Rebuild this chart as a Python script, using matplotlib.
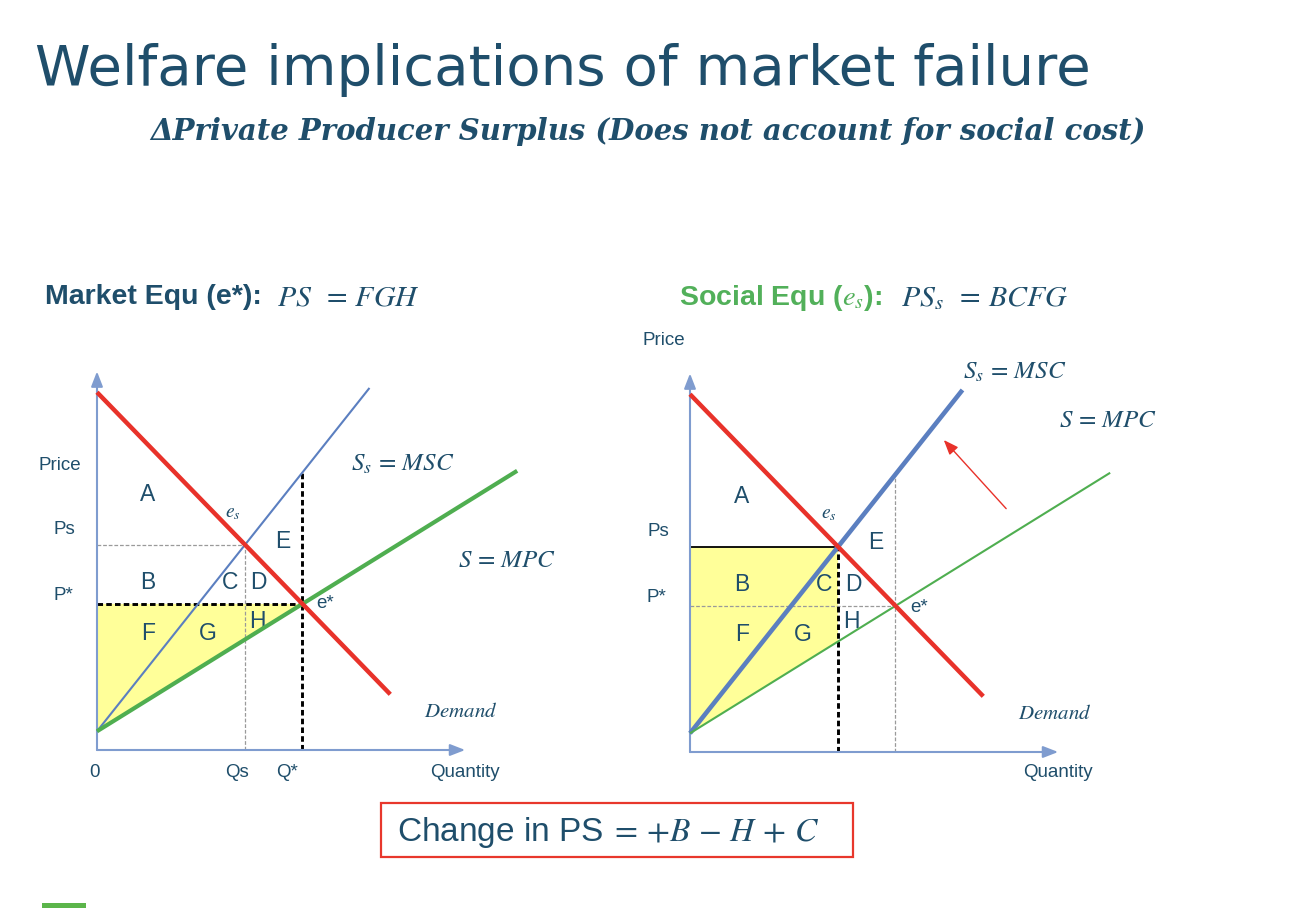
import numpy as np
import matplotlib.pyplot as plt
from matplotlib.patches import Rectangle

plt.rcParams['mathtext.fontset'] = 'stix'
plt.rcParams['font.family'] = 'Liberation Sans'

NAVY = '#1f4e6b'
GREEN = '#52b05a'
RED = '#e8322a'
BLUE = '#5b7fc0'
AXIS = '#7f9ccf'
YELLOW = '#ffff99'
GREY = '#9a9a9a'

W, H = 1290, 908
S = 20.8   # pixels per unit on both diagrams

# curves: price = intercept + slope * quantity (same curves on both diagrams)
demand = (17.2, -1.03)
msc = (0.9, 1.26)
mpc = (0.9, 0.62)
demand_end = 14.1
msc_end = 13.1
mpc_end = 20.2
q_axis_len = 17.7
p_axis_len = 18.2

# red arrow showing the supply shift (right diagram)
shift_from = (15.2, 11.7)
shift_to = (12.2, 15.0)

# area / point labels (text, q, p)
left_labels = [('A', 2.45, 12.3), ('E', 8.94, 10.0), ('B', 2.45, 8.03), ('C', 6.39, 8.03),
               ('D', 7.74, 8.03), ('F', 2.45, 5.58), ('G', 5.34, 5.58), ('H', 7.69, 6.2)]
right_labels = [('A', 2.5, 12.3), ('E', 8.94, 10.05), ('B', 2.5, 8.03), ('C', 6.44, 8.03),
                ('D', 7.84, 8.03), ('F', 2.5, 5.63), ('G', 5.43, 5.63), ('H', 7.74, 6.25)]


def price(curve, q):
    return curve[0] + curve[1] * q


q_star = (demand[0] - mpc[0]) / (mpc[1] - demand[1])
p_star = price(mpc, q_star)
q_s = (demand[0] - msc[0]) / (msc[1] - demand[1])
p_s = price(msc, q_s)

fig = plt.figure(figsize=(W / 100, H / 100), dpi=100)


def chart_axes(ox, oy):
    ax = fig.add_axes([(ox - 4 * S) / W, (H - (oy + 3 * S)) / H, 30 * S / W, 24 * S / H])
    ax.set_xlim(-4, 26)
    ax.set_ylim(-3, 21)
    ax.axis('off')
    return ax


def draw_axes_arrows(ax):
    for xy in [(0, p_axis_len), (q_axis_len, 0)]:
        ax.annotate('', xy=xy, xytext=(0, 0),
                    arrowprops=dict(arrowstyle='-|>,head_length=0.9,head_width=0.35',
                                    color=AXIS, lw=1.5, mutation_scale=10,
                                    shrinkA=0, shrinkB=0))


def draw_curves(ax, msc_lw, mpc_lw):
    q = np.array([0, demand_end])
    ax.plot(q, price(demand, q), color=RED, lw=3.2, solid_capstyle='butt', zorder=5)
    q = np.array([0, msc_end])
    ax.plot(q, price(msc, q), color=BLUE, lw=msc_lw, solid_capstyle='butt', zorder=4)
    q = np.array([0, mpc_end])
    ax.plot(q, price(mpc, q), color='#4fae50', lw=mpc_lw, solid_capstyle='butt', zorder=4)


def put_labels(ax, labels):
    for s, q, p in labels:
        ax.text(q, p, s, fontsize=16.5, color=NAVY, ha='center', va='center')


black_dash = dict(color='black', lw=2.1, ls=(0, (1.9, 1.1)), zorder=3)
grey_dash = dict(color=GREY, lw=0.9, ls=(0, (3, 1.5)), zorder=3)
math = dict(color=NAVY, ha='center', va='center')

# ---------------- left diagram: market equilibrium ----------------
axl = chart_axes(97, 750)
axl.fill([0, q_star, 0], [p_star, p_star, mpc[0]], color=YELLOW, lw=0, zorder=1)
axl.plot([0, q_s], [p_s, p_s], **grey_dash)
axl.plot([q_s, q_s], [0, p_s], **grey_dash)
axl.plot([0, q_star], [p_star, p_star], **black_dash)
axl.plot([q_star, q_star], [0, price(msc, q_star)], **black_dash)
draw_axes_arrows(axl)
draw_curves(axl, 1.5, 3.0)
put_labels(axl, left_labels)

txt = dict(color=NAVY, fontsize=13.5, ha='center', va='center')
axl.text(-1.78, 13.7, 'Price', **txt)
axl.text(-1.59, 10.58, 'Ps', **txt)
axl.text(-1.63, 7.45, 'P*', **txt)
axl.text(-0.1, -1.06, '0', **txt)
axl.text(6.73, -1.06, 'Qs', **txt)
axl.text(9.13, -1.06, 'Q*', **txt)
axl.text(17.7, -1.06, 'Quantity', **txt)
axl.text(10.96, 7.02, 'e*', **txt)
axl.text(6.54, 11.35, r'$e_s$', fontsize=14, **math)
axl.text(14.71, 13.75, r'$S_s\, = \,MSC$', fontsize=18, **math)
axl.text(19.7, 9.13, r'$S\, = \,MPC$', fontsize=18, **math)
axl.text(17.5, 1.83, r'$Demand$', fontsize=15, **math)

# ---------------- right diagram: social equilibrium ----------------
axr = chart_axes(690, 752)
axr.fill([0, q_s, q_s, 0], [p_s, p_s, price(mpc, q_s), mpc[0]], color=YELLOW, lw=0, zorder=1)
axr.plot([0, q_star], [p_star, p_star], **grey_dash)
axr.plot([q_star, q_star], [0, price(msc, q_star)], **grey_dash)
axr.plot([0, q_s - 0.2], [p_s, p_s], color='black', lw=1.3, zorder=3)
axr.plot([q_s, q_s], [0, p_s], **black_dash)
draw_axes_arrows(axr)
draw_curves(axr, 3.3, 1.5)
put_labels(axr, right_labels)
axr.annotate('', xy=shift_to, xytext=shift_from,
             arrowprops=dict(arrowstyle='-|>,head_length=0.9,head_width=0.35',
                             color=RED, lw=1.0, mutation_scale=10, shrinkA=0, shrinkB=0))

axr.text(-1.25, 19.76, 'Price', **txt)
axr.text(-1.54, 10.58, 'Ps', **txt)
axr.text(-1.63, 7.45, 'P*', **txt)
axr.text(17.7, -1.0, 'Quantity', **txt)
axr.text(11.0, 6.97, 'e*', **txt)
axr.text(6.68, 11.44, r'$e_s$', fontsize=14, **math)
axr.text(15.63, 18.27, r'$S_s\, = \,MSC$', fontsize=18, **math)
axr.text(20.1, 15.96, r'$S\, = \,MPC$', fontsize=18, **math)
axr.text(17.55, 1.83, r'$Demand$', fontsize=15, **math)

# ---------------- titles ----------------
fig.text(35 / W, 1 - 70 / H, 'Welfare implications of market failure', family='DejaVu Sans',
         fontsize=40.5, color=NAVY, va='center')
fig.text(648 / W, 1 - 131 / H, '\u0394Private Producer Surplus (Does not account for social cost)',
         family='DejaVu Serif', style='italic', weight='bold', fontsize=21, color=NAVY,
         ha='center', va='center')

t0 = fig.text(45 / W, 1 - 297 / H, 'Market Equ (e*):', weight='bold', fontsize=20.5,
              color=NAVY, va='center')
axl.annotate(r'$PS\;\; = \,FGH$', xy=(1, 0.5), xycoords=t0, xytext=(11, 0),
             textcoords='offset points', fontsize=21.5, color=NAVY, va='center')
t1 = fig.text(679 / W, 1 - 298 / H, r'Social Equ ($e_s$):', weight='bold', fontsize=20.5,
              color=GREEN, va='center')
axr.annotate(r'$PS_s\;\; = \,BCFG$', xy=(1, 0.5), xycoords=t1, xytext=(14, 0),
             textcoords='offset points', fontsize=21.5, color=NAVY, va='center')

fig.add_artist(Rectangle((381 / W, 1 - 857 / H), (853 - 381) / W, 54 / H,
                         transform=fig.transFigure, fill=False, ec='#e8372c', lw=1.6))
fig.text(397 / W, 1 - 832 / H, r'Change in PS$\;=\,{+B}\,-\,H\,+\,C$', fontsize=24,
         color=NAVY, va='center')

fig.add_artist(Rectangle((42 / W, 0), 44 / W, 5 / H, transform=fig.transFigure,
                         fc='#5bb54a', ec='none'))

fig.savefig('out.png', dpi=100)
